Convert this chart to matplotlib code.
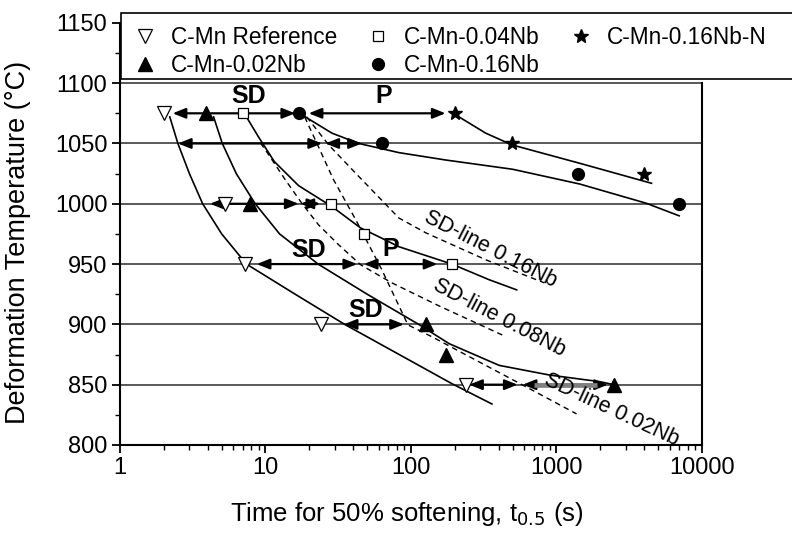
import matplotlib
matplotlib.use("Agg")
import matplotlib.pyplot as plt
from matplotlib.patches import Rectangle
from matplotlib.ticker import FixedLocator, MultipleLocator, NullFormatter

plt.rcParams['font.family'] = ['Liberation Sans', 'DejaVu Sans']

# measured points: (time t0.5 in s, deformation temperature in C)
ref_t = [2.0, 5.3, 7.2, 24.1, 238]
ref_T = [1075, 1000, 950, 900, 850]
nb02_t = [3.9, 7.8, 126, 173, 2485]
nb02_T = [1075, 1000, 900, 875, 850]
nb04_t = [7.0, 28.2, 47.4, 191]
nb04_T = [1075, 1000, 975, 950]
nb16_t = [17, 63, 1396, 6970]
nb16_T = [1075, 1050, 1025, 1000]
nb16n_t = [201, 495, 3981]
nb16n_T = [1075, 1050, 1025]

# solid fit curves
fit_ref_t = [2.2, 2.5, 3.0, 3.7, 5.0, 7.4, 16.0, 35, 83, 190, 360]
fit_ref_T = [1072, 1050, 1025, 1000, 975, 950, 925, 900, 875, 851, 834]
fit_02_t = [4.4, 5.05, 6.3, 8.5, 12.5, 23, 50, 113, 183, 404, 895, 1981, 2485]
fit_02_T = [1072, 1050, 1025, 1000, 975, 950, 925, 900, 884, 866, 858, 852.5, 850]
fit_04_t = [7.4, 9.0, 11.5, 16.9, 28.7, 45, 60, 82.6, 191, 345, 533]
fit_04_T = [1072, 1055, 1035, 1015, 997.6, 980, 972.7, 964.4, 950, 937, 928.6]
fit_16_t = [18.8, 28.7, 43.8, 82.6, 173, 500, 1442, 4150, 6970]
fit_16_T = [1072, 1058.5, 1050, 1042.4, 1036.3, 1028.6, 1016.4, 1000.4, 990]
fit_16n_t = [214, 327, 495, 1442, 4500]
fit_16n_T = [1072, 1058.5, 1048.8, 1033.6, 1017]

# dashed SD-lines
sd16_t = [19.2, 27.2, 42.0, 82.6, 127, 329, 827]
sd16_T = [1072, 1048.8, 1024.9, 988.2, 975.8, 953.4, 934.4]
sd08_t = [9.24, 10.2, 13.7, 17.7, 23.2, 31.9, 45.2, 74, 156, 424]
sd08_T = [1050.4, 1043, 1019.8, 1000.7, 982.4, 965.9, 949.3, 934.4, 915.3, 891.2]
sd02_t = [18.6, 22.5, 29.4, 41.8, 63.1, 95.3, 140, 294, 601, 1374]
sd02_T = [1072, 1050.4, 1019.8, 986.6, 945.2, 899.6, 889.6, 868.9, 849, 825.8]

# double arrows along isotherms: (T, t_start, t_end)
arrows = [(1075, 2.3, 16.0), (1075, 19.8, 173),
          (1050, 2.5, 24.5), (1050, 25.8, 46),
          (1000, 4.15, 16.9), (1000, 17.4, 23.8),
          (950, 8.7, 42.7), (950, 47.4, 152),
          (900, 34.5, 89.5),
          (850, 251, 541), (850, 586, 2259)]
grey_shaft = (850, 700, 1900)

region_labels = [("SD", 7.6, 1089), ("P", 65, 1089), ("SD", 19.8, 962),
                 ("P", 72.5, 962.5), ("SD", 48.7, 912)]
line_labels = [("SD-line 0.16Nb", 350, 962.4, -27),
               ("SD-line 0.08Nb", 404, 905.3, -27.5),
               ("SD-line 0.02Nb", 2384, 829, -25)]

isotherms = [850, 900, 950, 1000, 1050, 1100]

fig = plt.figure(figsize=(7.92, 5.34), dpi=100)
ax = fig.add_axes([0.1515, 0.1667, 0.7348, 0.7905])
ax.set_xscale('log')
ax.set_xlim(1, 10000)
ax.set_ylim(800, 1150)

for T in isotherms:
    ax.axhline(T, color='#3c3c3c', lw=1.2, zorder=1)

for T, a, b in arrows:
    ax.annotate('', xy=(b, T), xytext=(a, T),
                arrowprops=dict(arrowstyle='<|-|>,head_length=0.55,head_width=0.22',
                                color='k', lw=1.6, shrinkA=0, shrinkB=0,
                                mutation_scale=14), zorder=3)
T, a, b = grey_shaft
ax.plot([a, b], [T, T], color='#808080', lw=3.4, solid_capstyle='butt', zorder=3.5)

for xs, ys in [(fit_ref_t, fit_ref_T), (fit_02_t, fit_02_T), (fit_04_t, fit_04_T),
               (fit_16_t, fit_16_T), (fit_16n_t, fit_16n_T)]:
    ax.plot(xs, ys, color='k', lw=1.2, zorder=2)
for xs, ys in [(sd16_t, sd16_T), (sd08_t, sd08_T), (sd02_t, sd02_T)]:
    ax.plot(xs, ys, color='k', lw=1.0, ls=(0, (4, 3)), zorder=2)

ax.plot(ref_t, ref_T, ls='none', marker='v', ms=10, mfc='white', mec='k',
        mew=0.9, label='C-Mn Reference', zorder=4)
ax.plot(nb02_t, nb02_T, ls='none', marker='^', ms=10, mfc='k', mec='k',
        label='C-Mn-0.02Nb', zorder=4)
ax.plot(nb04_t, nb04_T, ls='none', marker='s', ms=7, mfc='white', mec='k',
        mew=0.9, label='C-Mn-0.04Nb', zorder=4)
ax.plot(nb16_t, nb16_T, ls='none', marker='o', ms=8.5, mfc='k', mec='k',
        label='C-Mn-0.16Nb', zorder=4)
ax.plot(nb16n_t, nb16n_T, ls='none', marker='*', ms=10, mfc='k', mec='k',
        label='C-Mn-0.16Nb-N', zorder=4)

for s, x, y in region_labels:
    ax.text(x, y, s, fontsize=18, fontweight='bold', ha='center', va='center', zorder=5)
for s, x, y, r in line_labels:
    ax.text(x, y, s, fontsize=15.5, ha='center', va='center', rotation=r,
            rotation_mode='anchor', zorder=5)

ax.xaxis.set_major_locator(FixedLocator([1, 10, 100, 1000, 10000]))
ax.set_xticklabels(['1', '10', '100', '1000', '10000'])
ax.xaxis.set_minor_formatter(NullFormatter())
ax.yaxis.set_major_locator(MultipleLocator(50))
ax.yaxis.set_minor_locator(MultipleLocator(25))
ax.tick_params(which='major', direction='out', length=6, width=1.3, labelsize=17, pad=3)
ax.tick_params(which='minor', direction='out', length=3.5, width=1.0)
ax.spines['top'].set_visible(False)
ax.spines['right'].set_bounds(800, 1100)
for sp in ['left', 'bottom', 'right']:
    ax.spines[sp].set_linewidth(1.5)

ax.set_xlabel('Time for 50% softening, t$_{0.5}$ (s)', fontsize=18.5)
ax.set_ylabel('Deformation Temperature (\u00b0C)', fontsize=19.5)
ax.xaxis.set_label_coords(0.493, -0.13)
ax.yaxis.set_label_coords(-0.153, 0.481)

# legend box runs past the right edge of the figure
box = Rectangle((120.7 / 792, 1 - 79.3 / 534), (800 - 120.7) / 792, 66 / 534,
                transform=fig.transFigure, facecolor='white', edgecolor='k',
                lw=1.2, clip_on=False, zorder=5)
ax.add_patch(box)
leg = ax.legend(ncol=3, loc='upper left', bbox_to_anchor=(122.4 / 792, 1 - 14.3 / 534),
                bbox_transform=fig.transFigure,
                fontsize=16.3, frameon=False,
                handlelength=1.0, handletextpad=0.65, columnspacing=1.3,
                borderpad=0.5, labelspacing=0.22, borderaxespad=0)
leg.set_zorder(6)

fig.savefig('out.png', dpi=100)
